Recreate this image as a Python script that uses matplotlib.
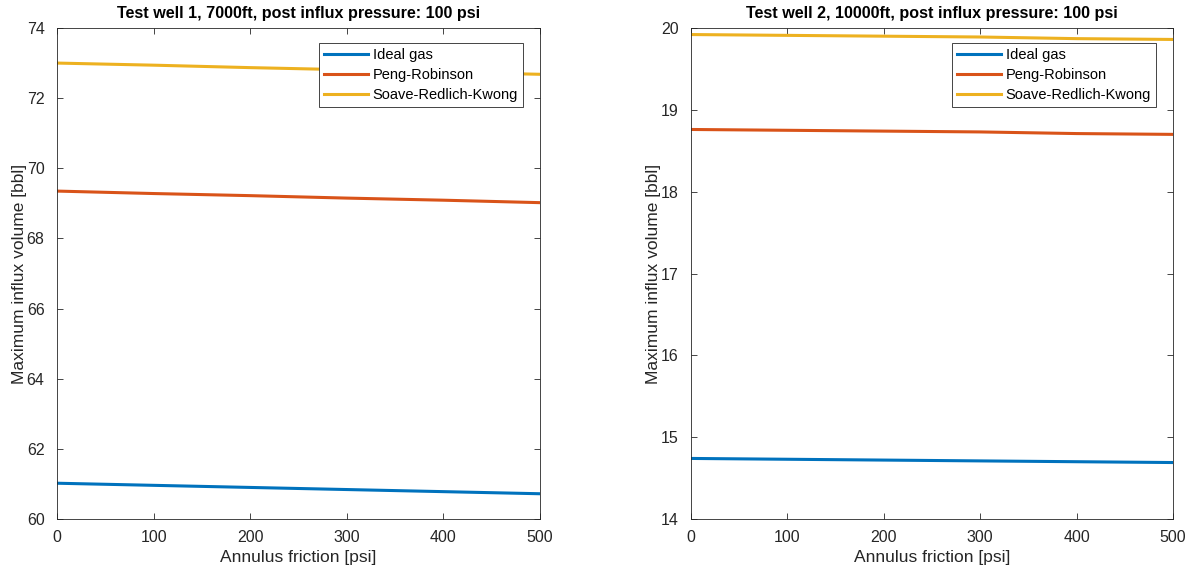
import matplotlib
matplotlib.use("Agg")
import matplotlib.pyplot as plt

# Annulus friction [psi]
friction = [0, 100, 200, 300, 400, 500]

# Test well 1 (7000ft) - maximum influx volume [bbl]
well1_ideal = [61.02, 60.96, 60.90, 60.84, 60.78, 60.72]
well1_pr = [69.35, 69.28, 69.22, 69.15, 69.09, 69.02]
well1_srk = [73.00, 72.94, 72.87, 72.81, 72.74, 72.68]

# Test well 2 (10000ft)
well2_ideal = [14.74, 14.73, 14.72, 14.71, 14.70, 14.69]
well2_pr = [18.76, 18.75, 18.74, 18.73, 18.71, 18.70]
well2_srk = [19.92, 19.91, 19.90, 19.89, 19.87, 19.86]

labels = ["Ideal gas", "Peng-Robinson", "Soave-Redlich-Kwong"]
colors = ["#0072BD", "#D95319", "#EDB120"]

plt.rcParams["font.family"] = ["Liberation Sans", "DejaVu Sans"]
plt.rcParams["font.size"] = 10

fig = plt.figure(figsize=(11.92, 5.73), dpi=100)
ax1 = fig.add_axes([57 / 1192, 1 - 519 / 573, 483 / 1192, 491 / 573])
ax2 = fig.add_axes([691 / 1192, 1 - 519 / 573, 482 / 1192, 491 / 573])


def draw(ax, series, title, ylim, yticks):
    for vals, lab, col in zip(series, labels, colors):
        ax.plot(friction, vals, color=col, lw=2.2, label=lab)
    ax.set_xlim(0, 500)
    ax.set_ylim(*ylim)
    ax.set_xticks(range(0, 501, 100))
    ax.set_yticks(yticks)
    ax.set_title(title, fontsize=11.6, fontweight="bold", pad=7)
    ax.set_xlabel("Annulus friction [psi]", fontsize=12.5, color="#262626", labelpad=3.5)
    ax.set_ylabel("Maximum influx volume [bbl]", fontsize=12.5, color="#262626", labelpad=0)
    ax.tick_params(direction="in", top=True, right=True, length=4, width=0.6,
                   labelsize=11.5, colors="#262626")
    ax.tick_params(axis="x", pad=8)
    ax.tick_params(axis="y", pad=9)
    for s in ax.spines.values():
        s.set_linewidth(0.6)
        s.set_color("#262626")
    leg = ax.legend(loc="upper right", bbox_to_anchor=(0.965, 0.97), fancybox=False,
                    framealpha=1, edgecolor="#262626", fontsize=10.5,
                    handlelength=3.0, handletextpad=0.35, borderpad=0.35,
                    labelspacing=0.42, borderaxespad=0)
    leg.get_frame().set_linewidth(0.6)
    leg.set_zorder(5)


draw(ax1, [well1_ideal, well1_pr, well1_srk],
     "Test well 1, 7000ft, post influx pressure: 100 psi", (60, 74), range(60, 75, 2))
draw(ax2, [well2_ideal, well2_pr, well2_srk],
     "Test well 2, 10000ft, post influx pressure: 100 psi", (14, 20), range(14, 21))

fig.savefig("out.png", dpi=100)
